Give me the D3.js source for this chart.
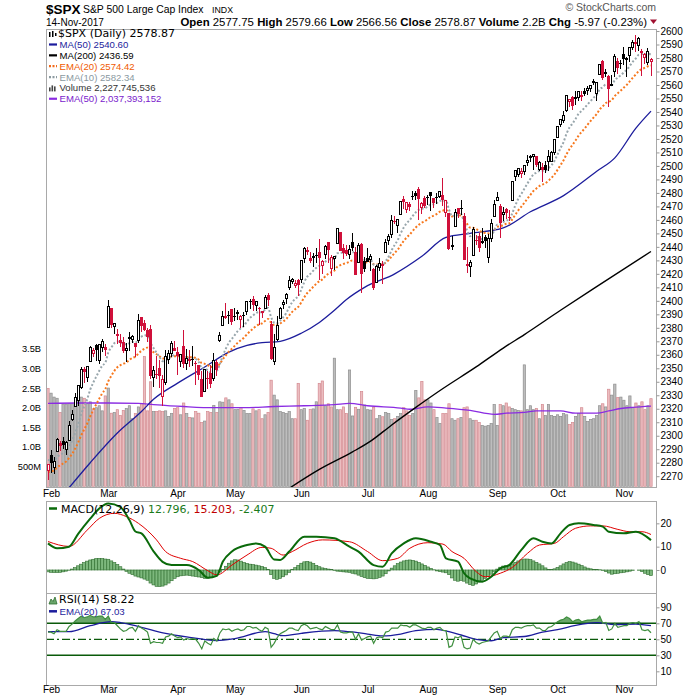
<!DOCTYPE html>
<html>
<head>
<meta charset="utf-8">
<title>$SPX daily</title>
<script src="https://d3js.org/d3.v7.min.js"></script>
<style>
  body { margin: 0; background: #fff; }
  svg { display: block; font-family: Arial, "Liberation Sans", sans-serif; }
  .axis text { font-size: 10px; fill: #000; }
  .axis line { stroke: #999; }
  .wide { font-family: "DejaVu Sans", Verdana, sans-serif; }
</style>
</head>
<body>
<div id="chart"></div>
<script>
// sessions shown on the chart (2017, mm-dd)
const days = [
  "01-31",
  "02-01","02-02","02-03","02-06","02-07","02-08","02-09","02-10","02-13","02-14","02-15","02-16","02-17","02-21","02-22","02-23","02-24","02-27","02-28",
  "03-01","03-02","03-03","03-06","03-07","03-08","03-09","03-10","03-13","03-14","03-15","03-16","03-17","03-20","03-21","03-22","03-23","03-24","03-27","03-28","03-29","03-30","03-31",
  "04-03","04-04","04-05","04-06","04-07","04-10","04-11","04-12","04-13","04-17","04-18","04-19","04-20","04-21","04-24","04-25","04-26","04-27","04-28",
  "05-01","05-02","05-03","05-04","05-05","05-08","05-09","05-10","05-11","05-12","05-15","05-16","05-17","05-18","05-19","05-22","05-23","05-24","05-25","05-26","05-30","05-31",
  "06-01","06-02","06-05","06-06","06-07","06-08","06-09","06-12","06-13","06-14","06-15","06-16","06-19","06-20","06-21","06-22","06-23","06-26","06-27","06-28","06-29","06-30",
  "07-03","07-05","07-06","07-07","07-10","07-11","07-12","07-13","07-14","07-17","07-18","07-19","07-20","07-21","07-24","07-25","07-26","07-27","07-28","07-31",
  "08-01","08-02","08-03","08-04","08-07","08-08","08-09","08-10","08-11","08-14","08-15","08-16","08-17","08-18","08-21","08-22","08-23","08-24","08-25","08-28","08-29","08-30","08-31",
  "09-01","09-05","09-06","09-07","09-08","09-11","09-12","09-13","09-14","09-15","09-18","09-19","09-20","09-21","09-22","09-25","09-26","09-27","09-28","09-29",
  "10-02","10-03","10-04","10-05","10-06","10-09","10-10","10-11","10-12","10-13","10-16","10-17","10-18","10-19","10-20","10-23","10-24","10-25","10-26","10-27","10-30","10-31",
  "11-01","11-02","11-03","11-06","11-07","11-08","11-09","11-10","11-13","11-14"
];

const open = [
  2274.02,
  2285.59,2276.69,2288.54,2294.28,2295.87,2289.55,2296.70,2312.27,2321.72,2326.12,2335.58,2349.64,2343.01,2354.91,2361.11,2367.50,2355.73,2365.23,2366.08,
  2380.13,2394.75,2380.92,2375.23,2370.74,2369.81,2363.49,2372.52,2371.56,2368.55,2370.34,2387.71,2383.71,2378.24,2379.32,2343.00,2345.97,2350.42,2329.11,2339.79,2356.54,2361.31,2364.82,
  2362.34,2354.76,2366.59,2353.79,2356.59,2357.16,2353.92,2352.15,2341.98,2332.62,2342.53,2346.79,2342.69,2354.74,2370.33,2381.51,2388.98,2389.70,2393.68,
  2388.50,2391.05,2386.50,2389.79,2392.37,2399.94,2401.58,2396.79,2394.84,2392.44,2393.98,2404.55,2382.95,2354.69,2371.37,2387.21,2397.04,2401.41,2409.54,2414.50,2411.67,2415.63,
  2415.65,2431.28,2437.83,2431.92,2432.03,2434.27,2436.39,2425.88,2434.15,2443.75,2424.14,2431.24,2442.55,2450.66,2439.31,2437.40,2434.65,2443.32,2436.34,2428.70,2442.38,2429.20,
  2431.39,2430.78,2423.44,2413.52,2424.51,2427.35,2435.75,2444.99,2449.16,2459.50,2455.88,2463.85,2475.56,2467.40,2472.04,2477.88,2479.97,2482.76,2469.12,2475.94,
  2477.10,2480.38,2476.03,2476.88,2477.14,2478.35,2465.35,2465.38,2441.04,2454.96,2468.66,2468.63,2462.95,2427.64,2425.50,2433.75,2444.88,2447.91,2444.72,2447.35,2431.94,2446.06,2462.65,
  2474.42,2470.35,2463.83,2468.06,2462.25,2474.52,2491.94,2493.89,2494.56,2495.67,2502.51,2506.29,2506.84,2507.16,2497.26,2499.39,2501.04,2503.30,2503.41,2509.96,
  2521.20,2530.34,2533.48,2540.86,2547.44,2551.39,2549.99,2550.62,2552.88,2555.66,2555.57,2557.17,2562.87,2553.39,2567.56,2578.08,2568.66,2566.52,2560.08,2570.26,2577.75,2575.99,
  2583.21,2579.46,2581.93,2587.47,2592.11,2589.16,2584.00,2580.18,2576.53,2577.75
];

const high = [
  2279.09,
  2289.14,2283.97,2298.31,2296.18,2299.40,2295.91,2311.08,2319.23,2331.58,2337.58,2351.30,2351.31,2351.16,2366.71,2365.13,2368.26,2367.34,2371.54,2367.79,
  2400.98,2394.75,2383.89,2378.80,2375.12,2373.09,2369.08,2376.86,2374.42,2368.55,2390.01,2388.10,2385.71,2379.55,2381.93,2351.81,2358.92,2356.22,2344.90,2363.78,2363.36,2370.42,2370.35,
  2365.87,2360.53,2378.36,2364.16,2363.76,2366.37,2355.22,2352.72,2348.26,2349.14,2348.35,2352.63,2361.37,2356.18,2376.98,2392.48,2398.16,2392.10,2393.68,
  2394.49,2392.93,2389.82,2391.43,2399.29,2401.36,2403.87,2399.74,2395.72,2392.44,2404.05,2405.77,2384.87,2375.74,2389.06,2395.46,2400.85,2405.58,2418.71,2416.68,2415.26,2415.99,
  2430.06,2440.23,2439.55,2436.21,2435.28,2439.27,2446.20,2430.38,2441.49,2443.75,2433.95,2433.15,2453.82,2450.66,2442.23,2441.62,2441.40,2450.42,2440.15,2442.97,2442.73,2432.71,
  2439.17,2434.90,2424.28,2426.92,2432.00,2429.30,2445.76,2449.32,2463.54,2462.82,2460.92,2473.83,2477.62,2472.54,2473.10,2481.24,2481.69,2484.04,2473.53,2477.96,
  2478.51,2480.38,2476.03,2480.00,2480.95,2490.87,2474.41,2465.38,2448.09,2468.22,2468.90,2474.93,2465.02,2440.27,2430.58,2454.77,2448.91,2450.39,2453.96,2449.12,2449.19,2460.31,2475.01,
  2480.38,2471.97,2469.64,2468.62,2467.11,2488.95,2496.77,2498.37,2498.43,2500.23,2508.32,2507.84,2508.85,2507.16,2503.47,2502.54,2503.51,2511.75,2510.81,2519.44,
  2529.23,2535.13,2540.53,2552.51,2549.41,2551.82,2555.23,2555.24,2555.33,2557.65,2559.47,2559.71,2564.11,2562.36,2575.44,2578.29,2572.18,2567.40,2567.07,2582.98,2580.03,2578.29,
  2588.40,2581.11,2588.42,2593.38,2597.02,2595.47,2586.50,2583.81,2587.66,2579.66
];

const low = [
  2267.21,
  2272.44,2271.65,2287.88,2288.57,2290.16,2285.38,2296.61,2311.10,2321.42,2322.17,2334.81,2338.87,2339.58,2354.91,2358.34,2355.09,2352.87,2361.87,2358.96,
  2380.13,2380.17,2375.39,2367.98,2365.51,2361.01,2354.54,2363.04,2368.52,2358.18,2368.94,2377.18,2377.64,2369.66,2341.90,2336.45,2342.13,2335.74,2322.25,2337.63,2352.94,2358.58,2362.60,
  2344.73,2350.72,2350.52,2348.90,2350.74,2351.50,2337.25,2341.18,2328.95,2332.51,2334.54,2335.05,2340.91,2344.51,2369.19,2381.15,2386.78,2382.68,2382.36,
  2384.83,2385.82,2379.75,2380.35,2389.38,2393.92,2392.44,2392.79,2381.74,2387.19,2393.94,2396.05,2356.21,2352.72,2370.43,2386.92,2393.88,2397.99,2408.01,2412.20,2409.43,2403.59,
  2413.54,2427.71,2434.32,2428.12,2424.75,2427.94,2415.70,2419.97,2431.28,2428.34,2418.53,2422.88,2441.79,2436.60,2430.74,2433.27,2431.11,2437.03,2419.38,2428.02,2405.70,2421.65,
  2428.69,2422.05,2407.70,2413.52,2422.27,2412.79,2435.75,2441.69,2446.69,2457.16,2450.34,2463.85,2468.43,2465.06,2466.32,2474.91,2474.94,2459.93,2464.66,2468.53,
  2471.14,2466.48,2468.85,2472.08,2475.88,2470.32,2462.08,2437.75,2437.85,2454.96,2461.61,2463.86,2430.01,2420.69,2417.35,2433.67,2441.42,2436.19,2442.22,2439.03,2428.20,2443.77,2462.65,
  2473.85,2446.55,2459.20,2460.29,2459.40,2474.52,2488.52,2492.14,2491.35,2493.16,2499.92,2503.19,2496.67,2499.00,2496.54,2488.03,2495.12,2495.91,2502.93,2507.99,
  2520.40,2528.85,2531.80,2540.02,2543.79,2541.60,2544.86,2547.95,2548.31,2552.09,2552.64,2554.69,2559.67,2547.92,2567.56,2563.65,2565.58,2544.00,2559.80,2565.94,2568.25,2572.15,
  2574.92,2566.17,2576.77,2585.66,2584.35,2585.02,2566.33,2575.57,2574.48,2566.56
];

const close = [
  2278.87,
  2279.55,2280.85,2297.42,2292.56,2293.08,2294.67,2307.87,2316.10,2328.25,2337.58,2349.25,2347.22,2351.16,2365.38,2362.82,2363.81,2367.34,2369.75,2363.64,
  2395.96,2381.92,2383.12,2375.31,2368.39,2362.98,2364.87,2372.60,2373.47,2365.45,2385.26,2381.38,2378.25,2373.47,2344.02,2348.45,2345.96,2343.98,2341.59,2358.57,2361.13,2368.06,2362.72,
  2358.84,2360.16,2352.95,2357.49,2355.54,2357.16,2353.78,2344.93,2328.95,2349.01,2342.19,2338.17,2355.84,2348.69,2374.15,2388.61,2387.45,2388.77,2384.20,
  2388.33,2391.17,2388.13,2389.52,2399.29,2399.38,2396.92,2399.63,2394.44,2390.90,2402.32,2400.67,2357.03,2365.72,2381.73,2394.02,2398.42,2404.39,2415.07,2415.82,2412.91,2411.80,
  2430.06,2439.07,2436.10,2429.33,2433.14,2433.79,2431.77,2429.39,2440.35,2437.92,2432.46,2433.15,2453.46,2437.03,2435.61,2434.50,2438.30,2439.07,2419.38,2440.69,2419.70,2423.41,
  2429.01,2432.54,2409.75,2425.18,2427.43,2425.53,2443.25,2447.83,2459.27,2459.14,2460.61,2473.83,2473.45,2472.54,2469.91,2477.13,2477.83,2475.42,2472.10,2470.30,
  2476.35,2477.57,2472.16,2476.83,2480.91,2474.92,2474.02,2438.21,2441.32,2465.84,2464.61,2468.11,2430.01,2425.55,2428.37,2452.51,2444.04,2438.97,2443.05,2444.24,2446.30,2457.59,2471.65,
  2476.55,2457.85,2465.54,2465.10,2461.43,2488.11,2496.48,2498.37,2495.62,2500.23,2503.87,2506.65,2508.24,2500.60,2502.22,2496.66,2496.84,2507.04,2510.06,2519.36,
  2529.12,2534.58,2537.74,2552.07,2549.33,2544.73,2550.64,2555.24,2550.93,2553.17,2557.64,2559.36,2561.26,2562.10,2575.21,2564.98,2569.13,2557.15,2560.40,2581.07,2572.83,2575.26,
  2579.36,2579.85,2587.84,2591.13,2590.64,2594.38,2584.62,2582.30,2584.84,2578.87
];
const closeBefore = 2280.90; // session before the first bar

// volume, billions of shares
const volume = [
  2.49,
  2.37,2.27,2.24,1.88,2.09,2.09,2.10,2.10,2.07,2.19,2.27,2.24,2.10,2.15,1.97,2.00,2.05,1.92,2.30,
  2.50,1.86,1.88,1.95,1.80,1.93,1.98,2.05,1.72,1.85,2.02,2.10,3.30,1.92,2.66,1.90,1.90,1.92,1.90,1.92,1.78,1.85,1.98,
  2.00,1.82,2.12,1.85,1.75,1.74,1.90,1.86,1.62,1.66,1.90,1.88,2.06,1.88,2.15,2.14,2.25,2.20,2.10,
  1.95,1.96,2.00,1.93,1.85,1.85,1.97,1.92,1.95,1.72,1.82,1.88,2.70,2.32,2.20,1.90,1.88,1.85,1.90,1.72,1.72,2.62,
  1.95,1.98,1.68,1.96,1.97,2.15,2.62,2.68,2.05,2.10,2.02,3.26,1.95,1.95,2.02,1.85,2.96,1.79,2.01,1.96,2.41,2.07,
  1.95,1.94,2.01,1.72,1.80,1.77,1.88,1.85,1.70,1.72,1.78,1.85,2.00,1.92,1.80,1.85,2.44,2.25,2.67,2.20,
  2.20,2.12,1.95,1.75,1.60,1.85,1.85,2.10,1.72,1.68,1.72,1.75,2.00,2.02,1.72,1.68,1.68,1.62,1.55,1.53,1.55,1.60,2.08,
  1.55,2.08,2.05,2.12,2.02,1.98,1.95,1.93,1.92,3.09,1.95,2.05,1.95,1.98,1.72,2.08,1.80,2.08,1.80,1.78,
  1.82,1.78,1.85,1.82,1.57,1.62,1.78,1.85,2.00,1.78,1.65,1.70,1.72,1.80,2.05,2.10,2.02,2.47,2.32,2.60,2.26,2.27,
  2.19,2.05,2.30,2.00,2.12,2.05,2.15,1.95,2.05,2.23
];

// overlays: daily EMA(10), EMA(20); sampled MA(50), MA(200), volume EMA(50) (session number, value)
const ema10 = [
  2282.0,
  2281.6,2281.4,2284.3,2285.8,2287.1,2288.5,2292.0,2296.4,2302.2,2308.6,2316.0,2321.7,2327.1,2334.1,2339.3,2343.8,2348.1,2352.0,2354.1,
  2361.7,2365.4,2368.6,2369.8,2369.5,2368.3,2367.7,2368.6,2369.5,2368.8,2371.8,2373.5,2374.4,2374.2,2368.7,2365.0,2361.5,2358.3,2355.3,2355.9,2356.9,2358.9,2359.6,
  2359.5,2359.6,2358.4,2358.2,2357.7,2357.6,2356.9,2354.7,2350.0,2349.8,2348.4,2346.6,2348.3,2348.4,2353.1,2359.5,2364.6,2369.0,2371.8,
  2374.8,2377.8,2379.7,2381.5,2384.7,2387.4,2389.1,2391.0,2391.6,2391.5,2393.5,2394.8,2387.9,2383.9,2383.5,2385.4,2387.8,2390.8,2395.2,2399.0,2401.5,2403.4,
  2408.3,2413.9,2417.9,2420.0,2422.4,2424.5,2425.8,2426.5,2429.0,2430.6,2430.9,2431.3,2435.3,2435.6,2435.6,2435.4,2435.9,2436.5,2433.4,2434.7,2432.0,2430.4,
  2430.1,2430.6,2426.8,2426.5,2426.7,2426.5,2429.5,2432.8,2437.6,2441.5,2445.0,2450.2,2454.4,2457.7,2459.9,2463.0,2465.7,2467.5,2468.3,2468.7,
  2470.1,2471.5,2471.6,2472.6,2474.1,2474.2,2474.2,2467.6,2462.8,2463.4,2463.6,2464.4,2458.1,2452.2,2447.9,2448.7,2447.9,2446.3,2445.7,2445.4,2445.6,2447.8,2452.1,
  2456.5,2456.8,2458.4,2459.6,2459.9,2465.0,2470.7,2475.7,2479.3,2483.1,2486.9,2490.5,2493.7,2495.0,2496.3,2496.4,2496.5,2498.4,2500.5,2503.9,
  2508.5,2513.2,2517.7,2524.0,2528.6,2531.5,2535.0,2538.7,2540.9,2543.1,2545.7,2548.2,2550.6,2552.7,2556.8,2558.3,2560.3,2559.7,2559.8,2563.7,2565.4,2567.2,
  2569.4,2571.3,2574.3,2577.4,2579.8,2582.5,2582.9,2582.8,2583.2,2582.34
];
const ema20 = [
  2273.0,
  2273.6,2274.3,2276.5,2278.0,2279.4,2280.9,2283.5,2286.6,2290.5,2295.0,2300.2,2304.7,2309.1,2314.4,2319.0,2323.3,2327.5,2331.5,2334.6,
  2340.4,2344.4,2348.1,2350.7,2352.3,2353.3,2354.4,2356.2,2357.8,2358.6,2361.1,2363.0,2364.5,2365.3,2363.3,2361.9,2360.4,2358.8,2357.2,2357.3,2357.7,2358.7,2359.0,
  2359.0,2359.1,2358.5,2358.4,2358.2,2358.1,2357.7,2356.4,2353.8,2353.3,2352.3,2350.9,2351.4,2351.2,2353.4,2356.7,2359.6,2362.4,2364.5,
  2366.8,2369.1,2370.9,2372.7,2375.2,2377.5,2379.3,2381.3,2382.5,2383.3,2385.1,2386.6,2383.8,2382.1,2382.1,2383.2,2384.7,2386.5,2389.2,2391.8,2393.8,2395.5,
  2398.8,2402.6,2405.8,2408.0,2410.4,2412.7,2414.5,2415.9,2418.2,2420.1,2421.3,2422.4,2425.4,2426.5,2427.4,2428.0,2429.0,2430.0,2429.0,2430.1,2429.1,2428.5,
  2428.6,2429.0,2427.2,2427.0,2427.0,2426.9,2428.4,2430.3,2433.0,2435.5,2437.9,2441.3,2444.4,2447.1,2449.2,2451.9,2454.4,2456.4,2457.9,2459.1,
  2460.7,2462.3,2463.2,2464.5,2466.1,2466.9,2467.6,2464.8,2462.6,2462.9,2463.1,2463.5,2460.3,2457.0,2454.3,2454.1,2453.2,2451.8,2451.0,2450.3,2450.0,2450.7,2452.7,
  2454.9,2455.2,2456.2,2457.1,2457.5,2460.4,2463.8,2467.1,2469.8,2472.7,2475.7,2478.6,2481.4,2483.3,2485.1,2486.2,2487.2,2489.1,2491.1,2493.8,
  2497.1,2500.7,2504.2,2508.8,2512.6,2515.7,2519.0,2522.5,2525.2,2527.8,2530.7,2533.4,2536.0,2538.5,2542.0,2544.2,2546.6,2547.6,2548.8,2551.9,2553.9,2555.9,
  2558.1,2560.2,2562.8,2565.5,2567.9,2570.4,2571.8,2572.8,2573.9,2574.42
];
const ma50At = [7,14,23,31,35,43,52,60,66,71,77,84,90,95,99,105,115,124,132,140,151,160,171,182,188,195,200];
const ma50 = [2261.5,2280,2302,2318,2327,2339,2351,2362,2367,2369,2370,2376,2384,2393,2401,2410,2420,2433,2447,2450,2454,2466,2478,2496,2506,2528,2540.6];
const ma200At = [80,90,101,107,114,122,131,142,151,158,170,183,200];
const ma200 = [2261,2275,2288,2296,2308,2321,2335,2351,2365,2375,2393,2412,2436.59];
const volEmaAt = [0,10,20,30,35,45,55,65,75,85,95,100,106,117,120,126,132,140,148,152,158,162,170,175,182,186,190,194,200];
const volEma = [2.11,2.12,2.12,2.11,2.08,2.03,2.0,2.0,2.03,2.05,2.08,2.11,2.05,1.99,1.96,2.02,1.99,1.93,1.83,1.86,1.88,1.92,1.92,1.86,1.86,1.92,1.98,2.01,2.04];

// MACD(12,26,9)
const macdAt = [0,3,7,10,14,17,20,24,27,29,31,35,38,41,46,50,53,56,58,61,66,69,72,75,77,80,85,89,95,100,103,108,111,114,118,122,127,130,132,136,138,140,144,147,150,153,157,161,164,167,170,173,176,181,184,186,191,195,200];
const macd = [11.4,9.3,10,15.5,22,26.4,28.5,27,21.4,16.5,15.7,8.0,3.5,2.1,2.1,0,-3.3,-2.5,3.6,7.9,10.7,11.4,10,4.5,4.3,7.9,14.3,14.3,13.6,10,7.9,2.1,1.4,7.1,11.4,13.6,12.1,10.7,5,3.6,-1.4,-3.6,-5,-2.9,0.7,2.1,8.6,13.6,12.1,11.4,15.7,19.3,20,19.3,18.6,16.4,15.7,16.4,12.796];
const signalAt = [0,7,13,17,22,26,30,36,39,44,48,53,56,61,66,71,74,78,81,86,91,100,106,111,116,120,126,131,134,138,142,145,150,154,159,163,168,171,175,180,184,189,193,197,200];
const signal = [12.2,10.1,17.1,22.1,24.3,22.9,20,12.9,7.9,5,3.6,-0.3,-2.1,2.1,6.4,9.7,9.3,6.4,7.9,11.4,12.9,12.1,7.9,4,5,9.3,11.7,11.1,7.9,5,-0.7,-2.9,-1.4,1.1,7.1,10.7,11.4,14.3,17.9,18.9,18.9,17.4,16.4,16.4,15.203];
const hist = [
  -0.8,-1.0,-1.1,-1.1,-1.0,-0.8,-0.5,
  -0.1,0.4,1.0,1.8,2.5,3.2,3.8,4.3,4.6,
  4.9,5.0,4.9,4.7,4.6,3.9,3.2,2.4,
  1.4,0.4,-0.6,-1.4,-2.0,-2.6,-3.0,
  -3.4,-3.9,-4.4,-5.6,-6.4,-7.0,-7.1,-6.9,-6.4,-5.6,
  -4.6,-3.6,-2.9,-2.5,-2.3,-2.2,-2.4,-2.6,-2.8,
  -3.0,-3.3,-3.6,-3.5,-3.2,-2.8,-2.0,-0.9,0.2,
  1.6,2.9,3.9,4.4,4.3,3.8,3.2,2.8,
  2.5,2.3,2.1,1.8,1.5,1.0,0.3,
  -2.0,-3.6,-4.0,-3.6,-2.9,-2.1,-1.0,
  0.2,1.0,2.0,2.9,3.5,3.7,3.4,2.8,2.0,
  1.4,0.9,0.6,0.4,0.2,-0.2,-0.5,-0.6,-0.8,-0.9,
  -1.0,-1.4,-1.7,-2.2,-2.8,-3.3,-3.6,-3.7,-3.8,-3.6,-3.2,-2.6,-1.6,
  -0.4,0.8,1.8,2.7,3.4,3.9,4.2,4.3,4.1,3.8,3.2,2.6,2.0,1.3,0.7,
  0.1,-0.4,-0.7,-0.9,-1.2,-2.0,
  -3.4,-4.4,-4.8,-4.5,-4.8,-5.6,-6.3,-6.6,-6.0,-5.2,-4.4,-3.6,-2.8,-1.8,-0.8,
  0.4,1.2,1.7,2.0,2.2,2.6,3.3,3.9,4.4,4.7,4.7,4.5,
  3.9,3.3,2.6,1.8,0.9,0.3,0.2,0.5,
  1.1,1.8,2.6,3.2,3.6,3.4,3.0,2.5,1.9,
  1.3,0.8,0.5,0.3,0.2,0.1,-0.2,
  -0.7,-1.3,-1.8,-1.6,-1.4,-1.2,-1.0,-0.8,-0.5,-0.2,
  0.0,-0.1,-0.7,-1.4,-2.0,-2.407
];

// RSI(14) and its EMA(20)
const rsi = [
  59,
  59,57,62,60,60,60,66,69,73,76,79,77,78,80,78,78,79,79,75,
  79,71,71,67,63,60,61,64,65,60,67,64,62,59,45,47,46,46,45,53,54,57,54,
  52,53,49,51,50,51,50,45,38,48,45,43,51,48,58,63,62,63,60,
  62,63,61,62,66,66,64,65,62,60,65,63,40,45,52,57,59,61,64,64,62,61,
  67,69,67,63,64,65,63,62,66,64,62,62,68,59,58,58,59,59,50,57,49,51,
  53,54,45,52,53,52,59,60,64,64,64,68,67,67,65,68,68,66,64,63,
  65,65,62,64,65,61,61,40,42,53,52,54,40,38,39,50,46,44,46,47,48,53,58,
  60,51,54,54,53,62,65,65,64,66,67,67,68,64,64,61,61,65,66,69,
  72,74,75,78,76,72,74,75,72,73,74,74,75,75,79,70,71,61,63,70,65,66,
  67,67,70,71,70,72,62,61,62,58.22
];
const rsiEmaAt = [0,7,14,21,24,31,39,46,56,62,72,75,78,84,95,100,106,111,117,122,129,133,137,142,147,151,158,164,169,175,182,188,195,200];
const rsiEma = [59.5,59.5,67,72,71,65,57.5,53,48.5,51,59.5,57,54.5,57.5,60.8,59.5,56.6,54.2,56.6,60.8,62.5,59.5,55.4,50,48.2,52,53.5,59,62,67.5,70.8,68.5,69,67.03];

// ticks and labels
const monthLabels = ["Feb","Mar","Apr","May","Jun","Jul","Aug","Sep","Oct","Nov"];
const volTicks = [0.5, 1.0, 1.5, 2.0, 2.5, 3.0, 3.5];
const volTickLabels = ["500M","1.0B","1.5B","2.0B","2.5B","3.0B","3.5B"];
const macdTicks = [0, 10, 20];
const rsiTicks = [10, 30, 50, 70, 90];
const statLabels = ["Open","High","Low","Close","Volume","Chg"];
const statValues = ["2577.75","2579.66","2566.56","2578.87","2.2B","-5.97 (-0.23%)"];
const legendNames = ["MA(50)","MA(200)","EMA(20)","EMA(10)","Volume","EMA(50)"];
const legendValues = ["2540.60","2436.59","2574.42","2582.34","2,227,745,536","2,037,393,152"];

// ---- layout ----
const W = 700, H = 700;
const left = 46, right = 656;
const pricePane = {top: 29, bottom: 487};
const macdPane = {top: 501, bottom: 593};
const rsiPane = {top: 593, bottom: 685};

const RED = "#d0103a";
const svg = d3.select("#chart").append("svg").attr("width", W).attr("height", H);

const n = days.length;
const x = d3.scaleLinear().domain([0, n - 1]).range([48, 651]);
const step = x(1) - x(0);
const y = d3.scaleLinear().domain([2262, 2601.5]).range([pricePane.bottom, pricePane.top]);
const yVol = d3.scaleLinear().domain([0, 3.5]).range([486.3, 348.75]);
const yMacd = d3.scaleLinear().domain([-9.86, 29.57]).range([macdPane.bottom, macdPane.top]);
const yRsi = d3.scaleLinear().domain([-7.1, 107.9]).range([rsiPane.bottom, rsiPane.top]);

const prior = i => i === 0 ? closeBefore : close[i - 1];
const isDown = i => close[i] < prior(i);

const defs = svg.append("defs");
function clipped(id, pane) {
  defs.append("clipPath").attr("id", id).append("rect")
    .attr("x", left).attr("y", pane.top)
    .attr("width", right - left).attr("height", pane.bottom - pane.top);
  return svg.append("g").attr("clip-path", `url(#${id})`);
}
const pairs = (at, vals) => at.map((a, k) => [a, vals[k]]);
const daily = vals => vals.map((v, i) => [i, v]);
const lineOf = ys => d3.line().x(d => x(d[0])).y(d => ys(d[1])).curve(d3.curveMonotoneX);

// ---- price pane ----
const gp = clipped("clipPrice", pricePane);

// volume bars behind the candles
gp.append("g").selectAll("rect")
  .data(volume)
  .join("rect")
  .attr("x", (d, i) => x(i) - step / 2 + 0.35)
  .attr("width", step - 0.7)
  .attr("y", d => yVol(d))
  .attr("height", d => yVol(0) - yVol(d))
  .attr("fill", (d, i) => isDown(i) ? "#ebbdc0" : "#bdbdbd")
  .attr("stroke", (d, i) => isDown(i) ? "#d48a90" : "#8f8f8f")
  .attr("stroke-width", 0.7);

gp.append("path").datum(pairs(volEmaAt, volEma))
  .attr("d", lineOf(yVol)).attr("fill", "none")
  .attr("stroke", "#8a2be2").attr("stroke-width", 1.3);

gp.append("path").datum(pairs(ma200At, ma200))
  .attr("d", lineOf(y)).attr("fill", "none")
  .attr("stroke", "#000").attr("stroke-width", 1.4);

gp.append("path").datum(pairs(ma50At, ma50))
  .attr("d", lineOf(y)).attr("fill", "none")
  .attr("stroke", "#1c1c9c").attr("stroke-width", 1.3);

gp.append("path").datum(daily(ema20))
  .attr("d", lineOf(y)).attr("fill", "none")
  .attr("stroke", "#f7781e").attr("stroke-width", 2)
  .attr("stroke-dasharray", "2,2");

gp.append("path").datum(daily(ema10))
  .attr("d", lineOf(y)).attr("fill", "none")
  .attr("stroke", "#98a6ac").attr("stroke-width", 2)
  .attr("stroke-dasharray", "2,2");

// candlesticks: red when the close is below the prior close, hollow when close > open
const candles = gp.append("g").attr("shape-rendering", "crispEdges")
  .selectAll("g")
  .data(days)
  .join("g");

candles.append("line")
  .attr("x1", (d, i) => Math.floor(x(i)) + 0.5)
  .attr("x2", (d, i) => Math.floor(x(i)) + 0.5)
  .attr("y1", (d, i) => y(high[i]))
  .attr("y2", (d, i) => y(low[i]))
  .attr("stroke", (d, i) => isDown(i) ? RED : "#000");

candles.append("rect")
  .attr("x", (d, i) => close[i] > open[i] ? Math.floor(x(i)) - 0.5 : Math.floor(x(i)) - 1)
  .attr("width", (d, i) => close[i] > open[i] ? 2 : 3)
  .attr("y", (d, i) => y(Math.max(open[i], close[i])))
  .attr("height", (d, i) => Math.max(1, y(Math.min(open[i], close[i])) - y(Math.max(open[i], close[i]))))
  .attr("fill", (d, i) => close[i] > open[i] ? "#fff" : (isDown(i) ? RED : "#000"))
  .attr("stroke", (d, i) => close[i] > open[i] ? (isDown(i) ? RED : "#000") : "none")
  .attr("stroke-width", 1);

// ---- MACD pane ----
const gm = clipped("clipMacd", macdPane);
gm.append("g").selectAll("rect")
  .data(hist)
  .join("rect")
  .attr("x", (d, i) => x(i) - step / 2)
  .attr("width", step)
  .attr("y", d => yMacd(Math.max(0, d)))
  .attr("height", d => Math.abs(yMacd(d) - yMacd(0)))
  .attr("fill", "#7db87d")
  .attr("stroke", "#2f6e2f")
  .attr("stroke-width", 0.6);

gm.append("path").datum(pairs(signalAt, signal))
  .attr("d", lineOf(yMacd)).attr("fill", "none")
  .attr("stroke", "#e00000").attr("stroke-width", 1);
gm.append("path").datum(pairs(macdAt, macd))
  .attr("d", lineOf(yMacd)).attr("fill", "none")
  .attr("stroke", "#0a6a0a").attr("stroke-width", 2);

// ---- RSI pane ----
const gr = clipped("clipRsi", rsiPane);
gr.append("path").datum(daily(rsi))
  .attr("d", d3.area().x(d => x(d[0])).y0(yRsi(70)).y1(d => yRsi(Math.max(70, d[1]))))
  .attr("fill", "#6aa66a");

[30, 70].forEach(v => {
  gr.append("line").attr("x1", left).attr("x2", right)
    .attr("y1", yRsi(v)).attr("y2", yRsi(v))
    .attr("stroke", "#0a5a0a").attr("stroke-width", 1.4);
});
gr.append("line").attr("x1", left).attr("x2", right)
  .attr("y1", yRsi(50)).attr("y2", yRsi(50))
  .attr("stroke", "#0a5a0a").attr("stroke-width", 1.2)
  .attr("stroke-dasharray", "8,3,2,3");

gr.append("path").datum(pairs(rsiEmaAt, rsiEma))
  .attr("d", lineOf(yRsi)).attr("fill", "none")
  .attr("stroke", "#1c1c9c").attr("stroke-width", 1.3);
gr.append("path").datum(daily(rsi))
  .attr("d", d3.line().x(d => x(d[0])).y(d => yRsi(d[1]))).attr("fill", "none")
  .attr("stroke", "#3f8f3f").attr("stroke-width", 1.2);

// ---- frames ----
[pricePane, macdPane, rsiPane].forEach(p => {
  svg.append("rect")
    .attr("x", left + 0.5).attr("y", p.top + 0.5)
    .attr("width", right - left).attr("height", p.bottom - p.top)
    .attr("fill", "none").attr("stroke", "#a9a9a9");
});

// ---- axes ----
const priceTicks = d3.range(2270, 2601, 10);
svg.append("g").attr("class", "axis").attr("transform", `translate(${right + 0.5},0)`)
  .call(d3.axisRight(y).tickValues(priceTicks).tickSize(3).tickPadding(1).tickFormat(d3.format("d")))
  .call(g => g.select(".domain").remove());

svg.append("g").attr("class", "axis").attr("transform", `translate(${right + 0.5},0)`)
  .call(d3.axisRight(yMacd).tickValues(macdTicks).tickSize(3).tickPadding(1))
  .call(g => g.select(".domain").remove());

svg.append("g").attr("class", "axis").attr("transform", `translate(${right + 0.5},0)`)
  .call(d3.axisRight(yRsi).tickValues(rsiTicks).tickSize(3).tickPadding(1))
  .call(g => g.select(".domain").remove());

svg.append("g").attr("class", "axis").attr("transform", `translate(${left},0)`)
  .call(d3.axisLeft(yVol).tickValues(volTicks).tickSize(0).tickPadding(5)
    .tickFormat((d, i) => volTickLabels[i]))
  .call(g => g.select(".domain").remove())
  .call(g => g.selectAll("text").style("font-size", "9.3px"));

// month labels sit on the first session of each month
const monthStarts = days.map((d, i) => i > 0 && d.slice(0, 2) !== days[i - 1].slice(0, 2) ? i : -1)
  .filter(i => i >= 0);
[pricePane.bottom, rsiPane.bottom].forEach((yy, k) => {
  svg.append("g").attr("class", "axis").attr("transform", `translate(0,${yy})`)
    .call(d3.axisBottom(x).tickValues(monthStarts).tickSize(0).tickPadding(k === 0 ? 3 : 1)
      .tickFormat((d, i) => monthLabels[i]))
    .call(g => g.select(".domain").remove());
});

// ---- header ----
svg.append("text").attr("x", 46).attr("y", 13.5)
  .style("font-size", "13.5px").style("font-weight", "bold").text("$SPX");
svg.append("text").attr("x", 83).attr("y", 13.3)
  .style("font-size", "10.4px").text("S&P 500 Large Cap Index");
svg.append("text").attr("x", 212).attr("y", 12.8)
  .style("font-size", "8.8px").text("INDX");
svg.append("text").attr("x", 46).attr("y", 26)
  .style("font-size", "10px").text("14-Nov-2017");
svg.append("text").attr("x", 656).attr("y", 11).attr("text-anchor", "end")
  .style("font-size", "10.5px").attr("fill", "#555").text("\u00A9 StockCharts.com");

const stats = svg.append("text").attr("x", 647).attr("y", 26).attr("text-anchor", "end")
  .style("font-size", "11.4px");
statLabels.forEach((lab, k) => {
  stats.append("tspan").style("font-weight", "bold").text((k ? "  " : "") + lab + " ");
  stats.append("tspan").text(statValues[k]);
});
svg.append("path").attr("d", "M650,19.5 L657,19.5 L653.5,24 Z").attr("fill", "#a01030");

// ---- price legend ----
const lg = svg.append("g");
lg.append("rect").attr("x", 49).attr("y", 32).attr("width", 1.5).attr("height", 5).attr("fill", "#000");
lg.append("rect").attr("x", 52).attr("y", 31).attr("width", 1.5).attr("height", 6).attr("fill", "#000");
lg.append("rect").attr("x", 55).attr("y", 33).attr("width", 1.5).attr("height", 3).attr("fill", "#000");
lg.append("text").attr("class", "wide").attr("x", 58).attr("y", 37.3)
  .style("font-size", "11px").text("$SPX (Daily) 2578.87");

const legendColors = ["#1c1c9c", "#000", "#f26a1b", "#8c9aa0", "#333", "#8a2be2"];
const legendTextColors = ["#1c1c9c", "#000", "#f05a00", "#8a999f", "#333", "#7a22cc"];
legendNames.forEach((name, k) => {
  const by = 48 + k * 10.85;
  if (name === "Volume") {
    [[49, 4], [51.5, 6], [54, 5]].forEach(([bx, bh]) =>
      lg.append("rect").attr("x", bx).attr("y", by - bh).attr("width", 1.6).attr("height", bh).attr("fill", "#444"));
  } else {
    lg.append("line").attr("x1", 49).attr("x2", 57).attr("y1", by - 3.5).attr("y2", by - 3.5)
      .attr("stroke", legendColors[k]).attr("stroke-width", 2.2)
      .attr("stroke-dasharray", name === "EMA(20)" || name === "EMA(10)" ? "2,1.5" : null);
  }
  lg.append("text").attr("x", 59.5).attr("y", by).attr("fill", legendTextColors[k])
    .style("font-size", "9.6px").text(name + " " + legendValues[k]);
});

// ---- MACD legend ----
svg.append("line").attr("x1", 49).attr("x2", 57).attr("y1", 508.5).attr("y2", 508.5)
  .attr("stroke", "#0a6a0a").attr("stroke-width", 2.5);
const ml = svg.append("text").attr("class", "wide").attr("x", 61).attr("y", 512.7).style("font-size", "11px");
ml.append("tspan").attr("fill", "#000").text("MACD(12,26,9) ");
ml.append("tspan").attr("fill", "#1a7a1a").text("12.796, ");
ml.append("tspan").attr("fill", "#c00000").text("15.203, ");
ml.append("tspan").attr("fill", "#1a7a1a").text("-2.407");

// ---- RSI legend ----
svg.append("path").attr("d", "M49,604 L51,599 L53,601.5 L55,597 L57,604 Z")
  .attr("fill", "#6aa66a").attr("stroke", "#2f6e2f").attr("stroke-width", 0.8);
svg.append("text").attr("class", "wide").attr("x", 59).attr("y", 603.3)
  .style("font-size", "11px").text("RSI(14) 58.22");
svg.append("line").attr("x1", 49).attr("x2", 57).attr("y1", 611.3).attr("y2", 611.3)
  .attr("stroke", "#1c1c9c").attr("stroke-width", 2.5);
svg.append("text").attr("x", 59.5).attr("y", 614.5).attr("fill", "#1c1c9c")
  .style("font-size", "9.7px").text("EMA(20) 67.03");
</script>
</body>
</html>
